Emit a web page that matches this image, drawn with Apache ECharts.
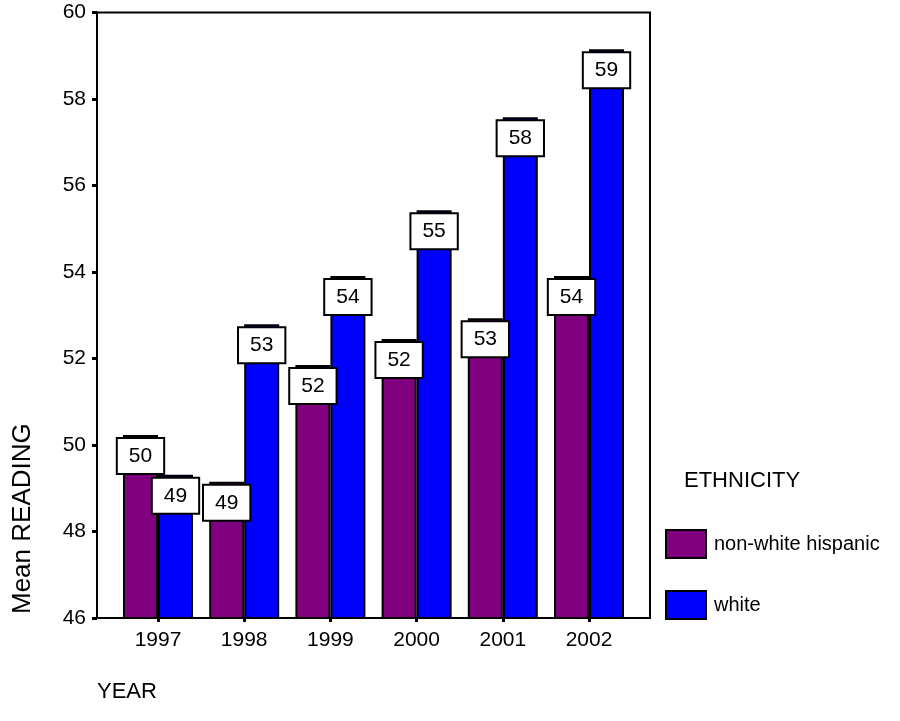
<!DOCTYPE html>
<html>
<head>
<meta charset="utf-8">
<script src="https://cdn.jsdelivr.net/npm/echarts@6/dist/echarts.min.js"></script>
<style>
  html, body { margin: 0; padding: 0; background: #fff; }
  #chart { width: 900px; height: 721px; }
</style>
</head>
<body>
<div id="chart"></div>
<script>
// Mean reading score by year and ethnicity
const years = ['1997', '1998', '1999', '2000', '2001', '2002'];
const seriesNames = ['non-white hispanic', 'white'];
const nonWhiteHispanic = [50.23, 49.15, 51.85, 52.45, 52.93, 53.91];
const white = [49.31, 52.79, 53.91, 55.43, 57.58, 59.15];
const yTicks = [46, 48, 50, 52, 54, 56, 58, 60];

const FONT = 'Liberation Sans, Arial, sans-serif';

const chart = echarts.init(document.getElementById('chart'), null, { renderer: 'canvas' });

// bars sit on a numeric x axis at category index positions so the
// axis can extend past the outer categories
const toPoints = arr => arr.map((v, i) => [i, v]);

const labelStyle = {
  show: true,
  position: 'insideTop',
  distance: 4,
  formatter: p => String(Math.round(p.value[1])),
  color: '#000',
  fontFamily: FONT,
  fontSize: 21,
  lineHeight: 20,
  backgroundColor: '#fff',
  borderColor: '#000',
  borderWidth: 2,
  padding: [7, 11]
};

const colors = ['#800080', '#0000ff'];

chart.setOption({
  animation: false,
  backgroundColor: '#fff',
  grid: {
    left: 97, right: 250, top: 12.5, bottom: 103,
    show: true, borderColor: '#000', borderWidth: 2, backgroundColor: 'transparent'
  },
  legend: {
    orient: 'vertical',
    left: 660, top: 524,
    itemWidth: 40, itemHeight: 28, itemGap: 31,
    icon: 'rect',
    textStyle: { fontFamily: FONT, fontSize: 20, color: '#000', padding: [0, 0, 0, 3] },
    data: seriesNames
  },
  xAxis: {
    type: 'value',
    min: -0.7075, max: years.length - 1 + 0.7075,
    splitLine: { show: false },
    axisLine: { show: true, onZero: false, lineStyle: { color: '#000', width: 2 } },
    axisTick: {
      show: true, length: 4, lineStyle: { color: '#000', width: 3 },
      customValues: years.map((y, i) => i)
    },
    axisLabel: {
      customValues: years.map((y, i) => i),
      formatter: v => years[Math.round(v)],
      color: '#000', fontFamily: FONT, fontSize: 21, margin: 12
    }
  },
  yAxis: {
    type: 'value',
    min: 46, max: 60, interval: 2,
    splitLine: { show: false },
    axisLine: { show: true, onZero: false, lineStyle: { color: '#000', width: 2 } },
    axisTick: { show: true, length: 5, lineStyle: { color: '#000', width: 3 } },
    axisLabel: {
      color: '#000', fontFamily: FONT, fontSize: 21, margin: 11,
      formatter: v => yTicks.includes(v) ? String(v) : ''
    }
  },
  series: [
    {
      name: seriesNames[0],
      type: 'bar',
      barWidth: 35,
      barGap: '0%',
      data: toPoints(nonWhiteHispanic),
      itemStyle: { color: colors[0], borderColor: '#000', borderWidth: 2 },
      label: labelStyle
    },
    {
      name: seriesNames[1],
      type: 'bar',
      barWidth: 35,
      barGap: '0%',
      data: toPoints(white),
      itemStyle: { color: colors[1], borderColor: '#000', borderWidth: 2 },
      label: labelStyle
    }
  ],
  graphic: [
    {
      type: 'text', left: 684, top: 470,
      style: { text: 'ETHNICITY', fill: '#000', font: '22px ' + FONT }
    },
    {
      type: 'text', x: 10, y: 614, rotation: Math.PI / 2,
      style: { text: 'Mean READING', fill: '#000', font: '26px ' + FONT }
    },
    {
      type: 'text', left: 97, top: 681,
      style: { text: 'YEAR', fill: '#000', font: '22px ' + FONT }
    }
  ]
});
</script>
</body>
</html>
